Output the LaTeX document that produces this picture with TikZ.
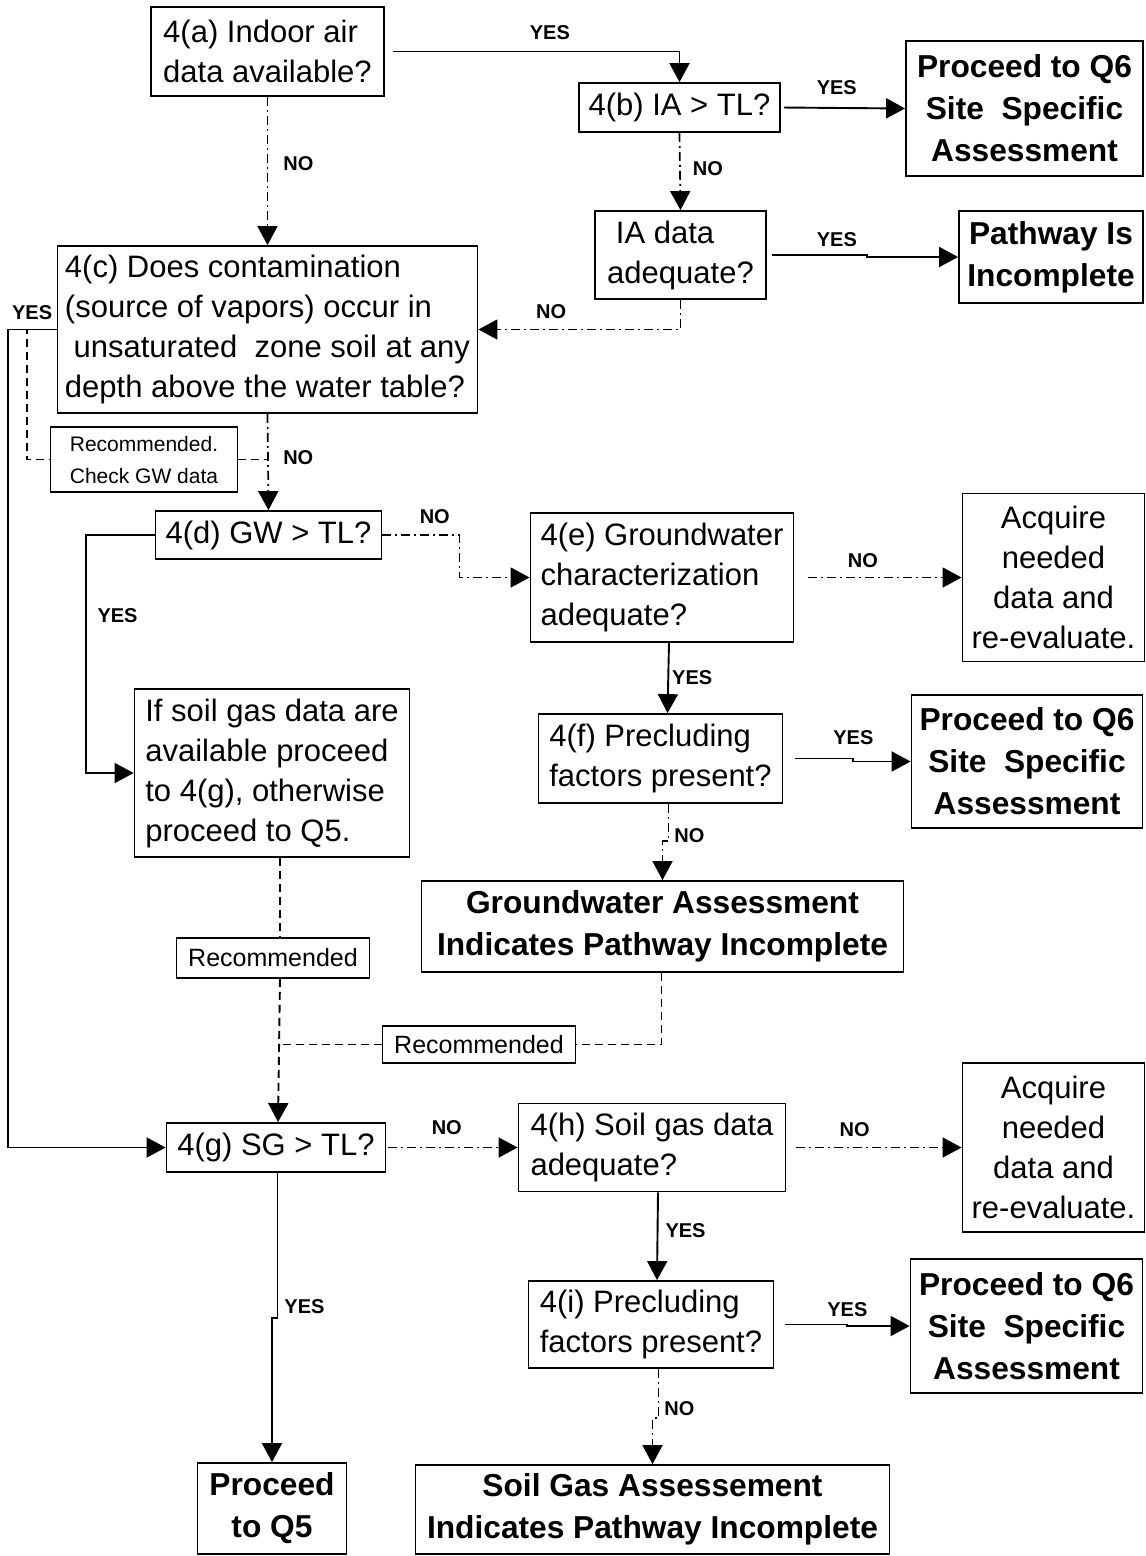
\documentclass[tikz,border=0pt]{standalone}
\usepackage{fontspec}
\setmainfont{Liberation Sans}
\usepackage{tikz}
\usetikzlibrary{arrows.meta,positioning}
\newcommand{\boxfont}{\fontsize{31}{40}\selectfont}
\newcommand{\resfont}{\fontsize{31.7}{42}\selectfont\bfseries}
\newcommand{\notefont}{\fontsize{25}{30}\selectfont}
\newcommand{\smallnotefont}{\fontsize{21}{32}\selectfont}
\newcommand{\lblfont}{\fontsize{20}{22}\selectfont\bfseries}
\tikzstyle{process} = [rectangle, draw, line width=1.8pt, inner xsep=7pt, align=left, font=\boxfont]
\tikzstyle{result} = [rectangle, draw, line width=1.8pt, inner xsep=7pt, align=center, font=\resfont]
\tikzstyle{note} = [rectangle, draw, line width=1.5pt, inner sep=3pt, align=center, font=\notefont]
\tikzstyle{arrow} = [line width=1.9pt,->,>={Triangle[length=19pt,width=20pt]}]
\tikzstyle{noarrow} = [arrow, line width=1.7pt, dash pattern=on 9pt off 4pt on 2pt off 4pt]
\tikzstyle{recline} = [line width=1.9pt, dash pattern=on 8pt off 5pt]
\tikzstyle{lbl} = [font=\lblfont, inner sep=0pt]

\begin{document}
\begin{tikzpicture}[x=1pt, y=-1pt, node distance=200pt]
\useasboundingbox (0,0) rectangle (1146,1556);

% indoor air branch
\node (a) [process, minimum width=233pt, minimum height=89pt] at (267.5,51.5) {4(a) Indoor air\\data available?};
\node (b) [process, right of=a, node distance=412pt, yshift=-56pt, minimum width=201pt, minimum height=49pt] {4(b) IA > TL?};
\node (q6a) [result, right of=b, node distance=345pt, yshift=-1pt, minimum width=237pt, minimum height=135pt] {Proceed to Q6\\Site\ \ Specific\\Assessment};
\node (iad) [process, below of=b, node distance=147.5pt, xshift=1pt, minimum width=171pt, minimum height=88pt] {\hspace*{.28em}IA data\\adequate?};
\node (path) [result, right of=iad, node distance=370.5pt, yshift=-2pt, minimum width=184pt, minimum height=92pt] {Pathway Is\\Incomplete};

% groundwater branch
\node (c) [process, below of=a, node distance=278pt, minimum width=420pt, minimum height=167pt] {4(c) Does contamination\\(source of vapors) occur in\\\hspace*{.28em}unsaturated\ \ zone soil at any\\depth above the water table?};
\node (rec1) [note, font=\smallnotefont, below of=c, node distance=130pt, xshift=-123.5pt, minimum width=187pt, minimum height=65pt] {Recommended.\\Check GW data};
\node (d) [process, below of=c, node distance=205.5pt, xshift=1pt, minimum width=226pt, minimum height=48pt] {4(d) GW > TL?};
\node (e) [process, right of=d, node distance=393.5pt, yshift=-42.5pt, minimum width=263pt, minimum height=129pt] {4(e) Groundwater\\characterization\\adequate?};
\node (acq1) [process, align=center, right of=e, node distance=391.5pt, minimum width=182pt, minimum height=168pt] {Acquire\\needed\\data and\\re-evaluate.};
\node (ifsg) [process, below of=d, node distance=238pt, xshift=3.5pt, minimum width=275pt, minimum height=168pt] {If soil gas data are\\available proceed\\to 4(g), otherwise\\proceed to Q5.};
\node (f) [process, below of=e, node distance=181pt, xshift=-1.5pt, minimum width=244pt, minimum height=89pt] {4(f) Precluding\\factors present?};
\node (q6b) [result, right of=f, node distance=366.5pt, yshift=-3pt, minimum width=231pt, minimum height=133pt] {Proceed to Q6\\Site\ \ Specific\\Assessment};
\node (gwa) [result, below of=f, node distance=168pt, xshift=2pt, minimum width=482pt, minimum height=91pt] {Groundwater Assessment\\Indicates Pathway Incomplete};
\node (rec3) [note, below of=ifsg, node distance=185pt, xshift=1pt, minimum width=193pt, minimum height=40pt] {Recommended};
\node (rec2) [note, below of=gwa, node distance=118pt, xshift=-183.5pt, minimum width=193pt, minimum height=37pt] {Recommended};

% soil gas branch
\node (g) [process, below of=rec3, node distance=189.5pt, xshift=3pt, minimum width=219pt, minimum height=49pt] {4(g) SG > TL?};
\node (h) [process, right of=g, node distance=376pt, minimum width=267pt, minimum height=88pt] {4(h) Soil gas data\\adequate?};
\node (acq2) [process, align=center, right of=h, node distance=401.5pt, minimum width=182pt, minimum height=169pt] {Acquire\\needed\\data and\\re-evaluate.};
\node (i) [process, below of=h, node distance=177pt, xshift=-1pt, minimum width=245pt, minimum height=87pt] {4(i) Precluding\\factors present?};
\node (q6c) [result, right of=i, node distance=375.5pt, yshift=-1.5pt, minimum width=232pt, minimum height=134pt] {Proceed to Q6\\Site\ \ Specific\\Assessment};
\node (q5) [result, below of=g, node distance=361pt, xshift=-4pt, minimum width=149pt, minimum height=91pt] {Proceed\\to Q5};
\node (sga) [result, below of=i, node distance=185pt, xshift=1.5pt, minimum width=474pt, minimum height=89pt] {Soil Gas Assessement\\Indicates Pathway Incomplete};

\draw[arrow, shorten <=8pt] (a.east) -| node[lbl, above=11.3pt, pos=0.28] {YES} (b.north);
\draw[arrow, shorten <=3pt] (b.east) -- node[lbl, above=12.3pt, pos=0.45] {YES} (q6a.west);
\draw[noarrow] (b.south) -- node[lbl, right=12pt, pos=0.46] {NO} (iad.north);
\draw[arrow, shorten <=5pt] (iad.east) -- node[lbl, above=7.8pt, pos=0.7] {YES} ++(100,0) |- (path.west);
\draw[noarrow] (iad.south) |- node[lbl, above=10.3pt, pos=0.82] {NO} (c.east);
\draw[noarrow] (a.south) -- node[lbl, right=15pt, pos=0.45] {NO} (c.north);
\draw[arrow] (c.west) -- node[lbl, above=9.3pt] {YES} ++(-49,0) |- (g.west);
\draw[recline] (c.west) -- ++(-30,0) |- (rec1.west);
\draw[recline] (rec1.east) -- (rec1.east -| c.south);
\draw[noarrow] (c.south) -- node[lbl, right=14.5pt, pos=0.45] {NO} (d.north);
\draw[noarrow] (d.east) -- node[lbl, above=10.8pt, pos=0.68] {NO} ++(77,0) |- (e.west);
\draw[arrow] (d.west) -- ++(-69,0) |- node[lbl, right=11pt, pos=0.17] {YES} (ifsg.west);
\draw[noarrow, shorten <=14pt] (e.east) -- node[lbl, above=9.3pt, pos=0.41] {NO} (acq1.west);
\draw[arrow] ([xshift=7pt]e.south) -- node[lbl, right=3pt, pos=0.5] {YES} ([xshift=7pt]f.north);
\draw[arrow, shorten <=12pt] (f.east) -- node[lbl, above=13.3pt, pos=1] {YES} ++(70,0) |- (q6b.west);
\draw[noarrow] ([xshift=8pt]f.south) -- node[lbl, right=5pt, pos=0.86] {NO} ++(0,37) -| (gwa.north);
\draw[recline] ([xshift=8pt]ifsg.south) -- ([xshift=7pt]rec3.north);
\draw[recline] ([xshift=-1pt]gwa.south) |- (rec2.east);
\draw[recline] (rec2.west) -- ++(-103,0);
\draw[arrow, recline] ([xshift=7pt]rec3.south) -- ([xshift=2pt]g.north);
\draw[noarrow, shorten <=2pt] (g.east) -- node[lbl, above=12.3pt, pos=0.46] {NO} (h.west);
\draw[arrow] ([xshift=1.5pt]g.south) -- node[lbl, right=6pt, pos=0.92] {YES} ++(0,145) -| (q5.north);
\draw[noarrow, shorten <=10pt] (h.east) -- node[lbl, above=10.3pt, pos=0.39] {NO} (acq2.west);
\draw[arrow] ([xshift=6pt]h.south) -- node[lbl, right=7pt, pos=0.44] {YES} ([xshift=6pt]i.north);
\draw[arrow, shorten <=11pt] (i.east) -- node[lbl, above=7.3pt, pos=1] {YES} ++(73,0) |- (q6c.west);
\draw[noarrow] ([xshift=7.5pt]i.south) -- node[lbl, right=5pt, pos=0.82] {NO} ++(0,49) -| (sga.north);
\end{tikzpicture}
\end{document}
